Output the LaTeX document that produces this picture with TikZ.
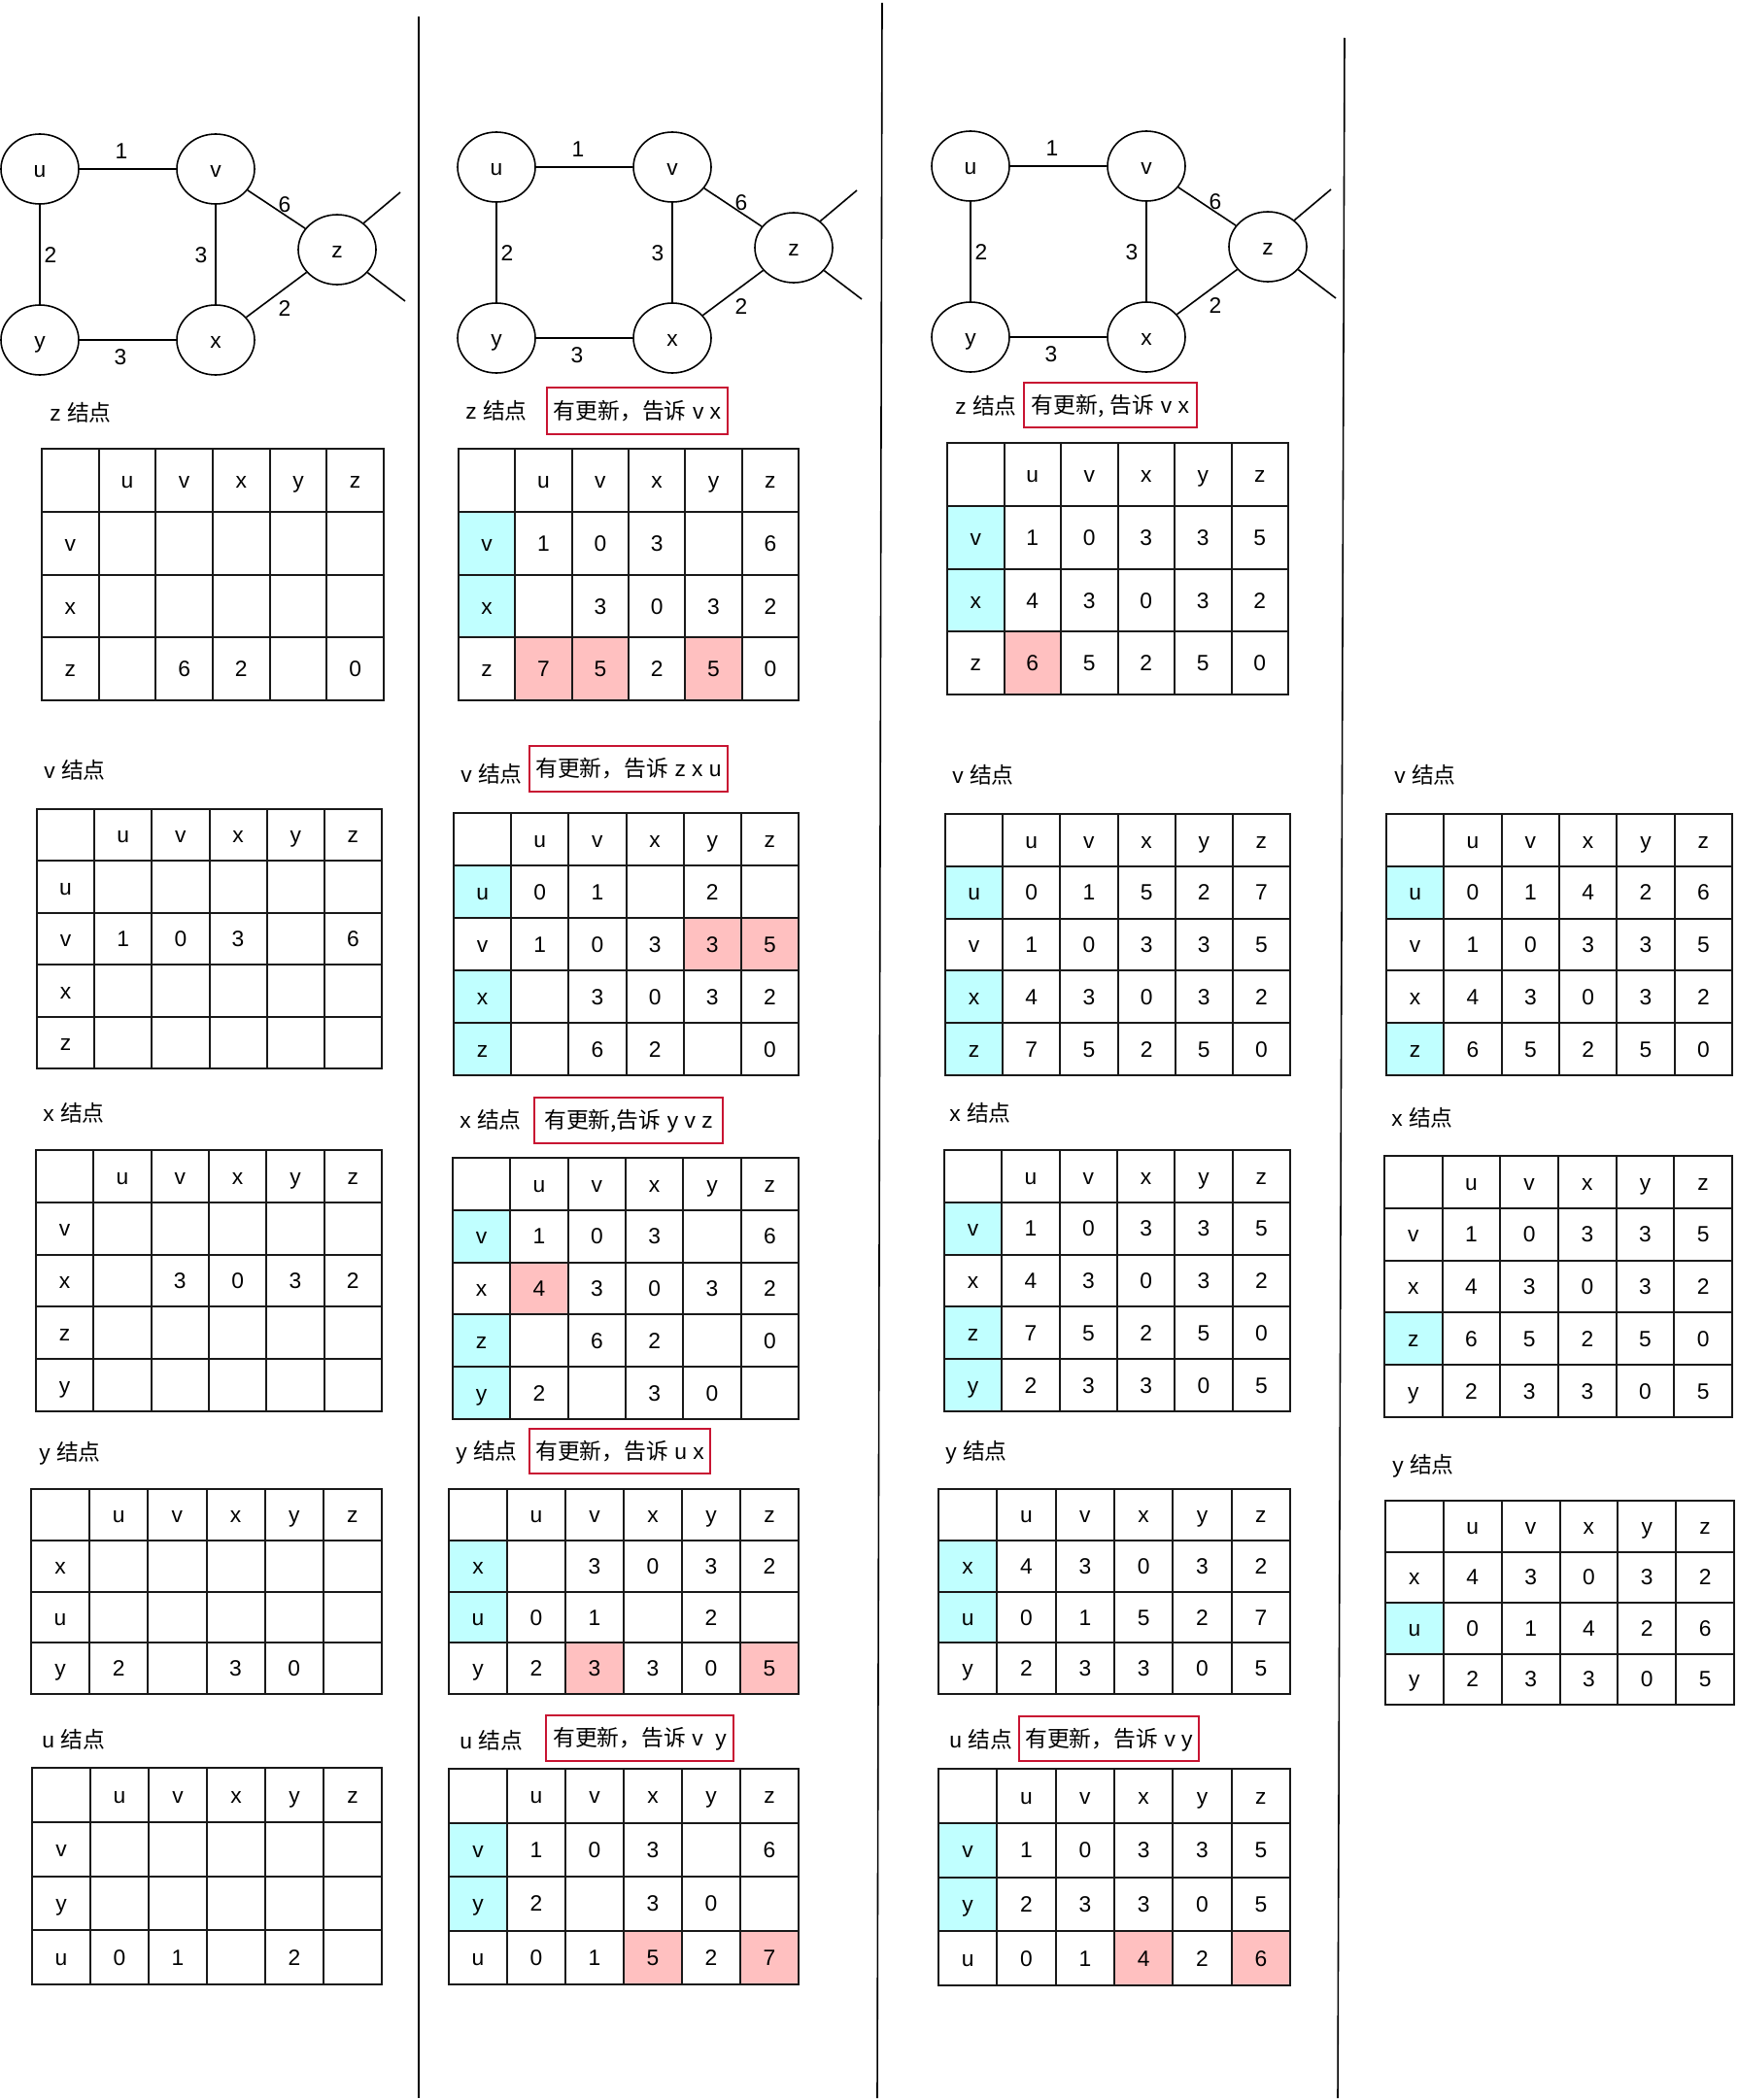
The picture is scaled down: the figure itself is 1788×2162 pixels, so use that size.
\documentclass[tikz,border=0pt]{standalone}
\usepackage{fontspec}
\setmainfont{Liberation Sans}
\newfontfamily\cjk{Noto Sans CJK SC}
\usetikzlibrary{shapes.geometric}
\definecolor{cyanfill}{RGB}{192,255,255}
\definecolor{pinkfill}{RGB}{255,192,192}
\definecolor{boxred}{RGB}{200,20,50}
\definecolor{gridc}{RGB}{25,25,25}
\tikzset{
 cell/.style={inner sep=0pt, text height=8.2pt, text depth=0pt},
 gridline/.style={draw=gridc, line width=1pt},
 vert/.style={ellipse, draw=black, line width=0.8pt, minimum width=40pt, minimum height=36pt, inner sep=0pt, text height=8.2pt, text depth=0pt},
 gedge/.style={draw=black, line width=0.8pt},
 elab/.style={inner sep=0pt, text height=8.2pt, text depth=0pt},
 lab/.style={anchor=west, inner sep=0pt, text height=8.2pt, text depth=0pt},
 rbox/.style={draw=boxred, line width=0.8pt, inner sep=0pt, text height=8.2pt, text depth=0pt},
 sepline/.style={draw=black, line width=0.8pt},
}
% table: #1 id, #2 x0, #3 y0, #4 x1, #5 y1, #6 rows incl header, #7 fills, #8 rows
\newcommand\dvtab[8]{%
 \pgfmathsetmacro\cw{(#4-#2)/6}%
 \pgfmathsetmacro\rh{(#5-#3)/#6}%
 \pgfmathtruncatemacro\nr{#6-1}%
 \foreach \rr/\cc/\fc in {#7}{\fill[\fc] ({#2+\cc*\cw},{#3+\rr*\rh}) rectangle ++(\cw,\rh);}%
 \foreach \cc in {1,...,5}{\draw[gridline] ({#2+\cc*\cw},#3) -- ({#2+\cc*\cw},#5);}%
 \foreach \rr in {1,...,\nr}{\draw[gridline] (#2,{#3+\rr*\rh}) -- (#4,{#3+\rr*\rh});}%
 \draw[gridline] (#2,#3) rectangle (#4,#5);%
 \foreach \hd [count=\cc] in {u,v,x,y,z}{\node[cell] (#1-0-\cc) at ({#2+(\cc+0.5)*\cw},{#3+0.5*\rh}) {\hd};}%
 \foreach \rowlist [count=\rr] in {#8}{%
   \foreach \val [count=\cc from 0] in \rowlist{%
     \node[cell] (#1-\rr-\cc) at ({#2+(\cc+0.5)*\cw},{#3+(\rr+0.5)*\rh}) {\val};}}%
}
% red box: #1 name, #2 x0, #3 y0, #4 x1, #5 y1, #6 text
\newcommand\dvbox[6]{%
 \node[rbox, minimum width={(#4-#2)*0.5pt}, minimum height={(#5-#3)*0.5pt}] (#1) at ({(#2+#4)/2},{(#3+#5)/2}) {#6};}
% graph: #1 prefix, #2 dx, #3 dy
\newcommand\dvgraph[3]{%
 \begin{scope}[shift={(#2,#3)}]
 \node[vert] (#1u) at (41,174) {u};
 \node[vert] (#1v) at (222,174) {v};
 \node[vert] (#1z) at (347,257) {z};
 \node[vert] (#1y) at (41,350) {y};
 \node[vert] (#1x) at (222,350) {x};
 \coordinate (#1a) at (412,198);
 \coordinate (#1b) at (417,310);
 \draw[gedge] (#1u) -- (#1v);
 \draw[gedge] (#1u) -- (#1y);
 \draw[gedge] (#1v) -- (#1x);
 \draw[gedge] (#1y) -- (#1x);
 \draw[gedge] (#1v) -- (#1z);
 \draw[gedge] (#1x) -- (#1z);
 \draw[gedge] (#1z.45) -- (#1a);
 \draw[gedge] (#1z.-37) -- (#1b);
 \node[elab] (#1w1) at (125,155) {1};
 \node[elab] (#1w2) at (52,262) {2};
 \node[elab] (#1w3) at (207,262) {3};
 \node[elab] (#1w4) at (293,210) {6};
 \node[elab] (#1w5) at (293,317) {2};
 \node[elab] (#1w6) at (124,367) {3};
 \end{scope}}
\begin{document}
\begin{tikzpicture}[x=0.5pt,y=-0.5pt,every node/.style={font=\fontsize{11.4}{13.5}\selectfont}]
\fill[white] (0,0) rectangle (1788,2162);
\useasboundingbox (0,0) rectangle (1788,2162);

% graphs
\dvgraph{ga}{0}{0}
\dvgraph{gb}{470}{-2}
\dvgraph{gc}{958}{-3}

% separators
\draw[sepline] (431,17) -- (431,2160);
\draw[sepline] (908,3) -- (903,2160);
\draw[sepline] (1384,39) -- (1377,2160);

% ---------- column 1 ----------
\node[lab] (L1z) at (51,425) {z {\cjk 结点}};
\dvtab{T1z}{43}{462}{395}{721}{4}{0/0/white}{{v,,,,,},{x,,,,,},{z,,6,2,,0}}
\node[lab] (L1v) at (45,793) {v {\cjk 结点}};
\dvtab{T1v}{38}{833}{393}{1100}{5}{0/0/white}{{u,,,,,},{v,1,0,3,,6},{x,,,,,},{z,,,,,}}
\node[lab] (L1x) at (44,1146) {x {\cjk 结点}};
\dvtab{T1x}{37}{1184}{393}{1453}{5}{0/0/white}{{v,,,,,},{x,,3,0,3,2},{z,,,,,},{y,,,,,}}
\node[lab] (L1y) at (40,1495) {y {\cjk 结点}};
\dvtab{T1y}{32}{1533}{393}{1744}{4}{0/0/white}{{x,,,,,},{u,,,,,},{y,2,,3,0,}}
\node[lab] (L1u) at (43,1791) {u {\cjk 结点}};
\dvtab{T1u}{33}{1820}{393}{2043}{4}{0/0/white}{{v,,,,,},{y,,,,,},{u,0,1,,2,}}

% ---------- column 2 ----------
\node[lab] (L2z) at (479,423) {z {\cjk 结点}};
\dvbox{B2z}{563}{399}{749}{447}{{\cjk 有更新，告诉} v x}
\dvtab{T2z}{472}{462}{822}{721}{4}{1/0/cyanfill,2/0/cyanfill,3/1/pinkfill,3/2/pinkfill,3/4/pinkfill}{{v,1,0,3,,6},{x,,3,0,3,2},{z,7,5,2,5,0}}
\node[lab] (L2v) at (474,797) {v {\cjk 结点}};
\dvbox{B2v}{545}{768}{749}{815}{{\cjk 有更新，告诉} z x u}
\dvtab{T2v}{467}{837}{822}{1107}{5}{1/0/cyanfill,3/0/cyanfill,4/0/cyanfill,2/4/pinkfill,2/5/pinkfill}{{u,0,1,,2,},{v,1,0,3,3,5},{x,,3,0,3,2},{z,,6,2,,0}}
\node[lab] (L2x) at (473,1153) {x {\cjk 结点}};
\dvbox{B2x}{550}{1130}{744}{1177}{{\cjk 有更新,告诉} y v z}
\dvtab{T2x}{466}{1192}{822}{1461}{5}{1/0/cyanfill,3/0/cyanfill,4/0/cyanfill,2/1/pinkfill}{{v,1,0,3,,6},{x,4,3,0,3,2},{z,,6,2,,0},{y,2,,3,0,}}
\node[lab] (L2y) at (469,1494) {y {\cjk 结点}};
\dvbox{B2y}{545}{1471}{731}{1517}{{\cjk 有更新，告诉} u x}
\dvtab{T2y}{462}{1533}{822}{1744}{4}{1/0/cyanfill,2/0/cyanfill,3/2/pinkfill,3/5/pinkfill}{{x,,3,0,3,2},{u,0,1,,2,},{y,2,3,3,0,5}}
\node[lab] (L2u) at (473,1792) {u {\cjk 结点}};
\dvbox{B2u}{562}{1766}{755}{1813}{{\cjk 有更新，告诉} v\ \ y}
\dvtab{T2u}{462}{1821}{822}{2043}{4}{1/0/cyanfill,2/0/cyanfill,3/3/pinkfill,3/5/pinkfill}{{v,1,0,3,,6},{y,2,,3,0,},{u,0,1,5,2,7}}

% ---------- column 3 ----------
\node[lab] (L3z) at (983,418) {z {\cjk 结点}};
\dvbox{B3z}{1054}{394}{1232}{440}{{\cjk 有更新,} {\cjk 告诉} v x}
\dvtab{T3z}{975}{456}{1326}{715}{4}{1/0/cyanfill,2/0/cyanfill,3/1/pinkfill}{{v,1,0,3,3,5},{x,4,3,0,3,2},{z,6,5,2,5,0}}
\node[lab] (L3v) at (980,798) {v {\cjk 结点}};
\dvtab{T3v}{973}{838}{1328}{1107}{5}{1/0/cyanfill,3/0/cyanfill,4/0/cyanfill}{{u,0,1,5,2,7},{v,1,0,3,3,5},{x,4,3,0,3,2},{z,7,5,2,5,0}}
\node[lab] (L3x) at (977,1146) {x {\cjk 结点}};
\dvtab{T3x}{972}{1184}{1328}{1453}{5}{1/0/cyanfill,3/0/cyanfill,4/0/cyanfill}{{v,1,0,3,3,5},{x,4,3,0,3,2},{z,7,5,2,5,0},{y,2,3,3,0,5}}
\node[lab] (L3y) at (973,1494) {y {\cjk 结点}};
\dvtab{T3y}{966}{1533}{1328}{1744}{4}{1/0/cyanfill,2/0/cyanfill}{{x,4,3,0,3,2},{u,0,1,5,2,7},{y,2,3,3,0,5}}
\node[lab] (L3u) at (977,1791) {u {\cjk 结点}};
\dvbox{B3u}{1049}{1767}{1234}{1813}{{\cjk 有更新，告诉} v y}
\dvtab{T3u}{966}{1821}{1328}{2044}{4}{1/0/cyanfill,2/0/cyanfill,3/3/pinkfill,3/5/pinkfill}{{v,1,0,3,3,5},{y,2,3,3,0,5},{u,0,1,4,2,6}}

% ---------- column 4 ----------
\node[lab] (L4v) at (1435,798) {v {\cjk 结点}};
\dvtab{T4v}{1427}{838}{1783}{1107}{5}{1/0/cyanfill,4/0/cyanfill}{{u,0,1,4,2,6},{v,1,0,3,3,5},{x,4,3,0,3,2},{z,6,5,2,5,0}}
\node[lab] (L4x) at (1432,1151) {x {\cjk 结点}};
\dvtab{T4x}{1425}{1190}{1783}{1459}{5}{3/0/cyanfill}{{v,1,0,3,3,5},{x,4,3,0,3,2},{z,6,5,2,5,0},{y,2,3,3,0,5}}
\node[lab] (L4y) at (1433,1508) {y {\cjk 结点}};
\dvtab{T4y}{1426}{1545}{1785}{1755}{4}{2/0/cyanfill}{{x,4,3,0,3,2},{u,0,1,4,2,6},{y,2,3,3,0,5}}
\end{tikzpicture}
\end{document}
